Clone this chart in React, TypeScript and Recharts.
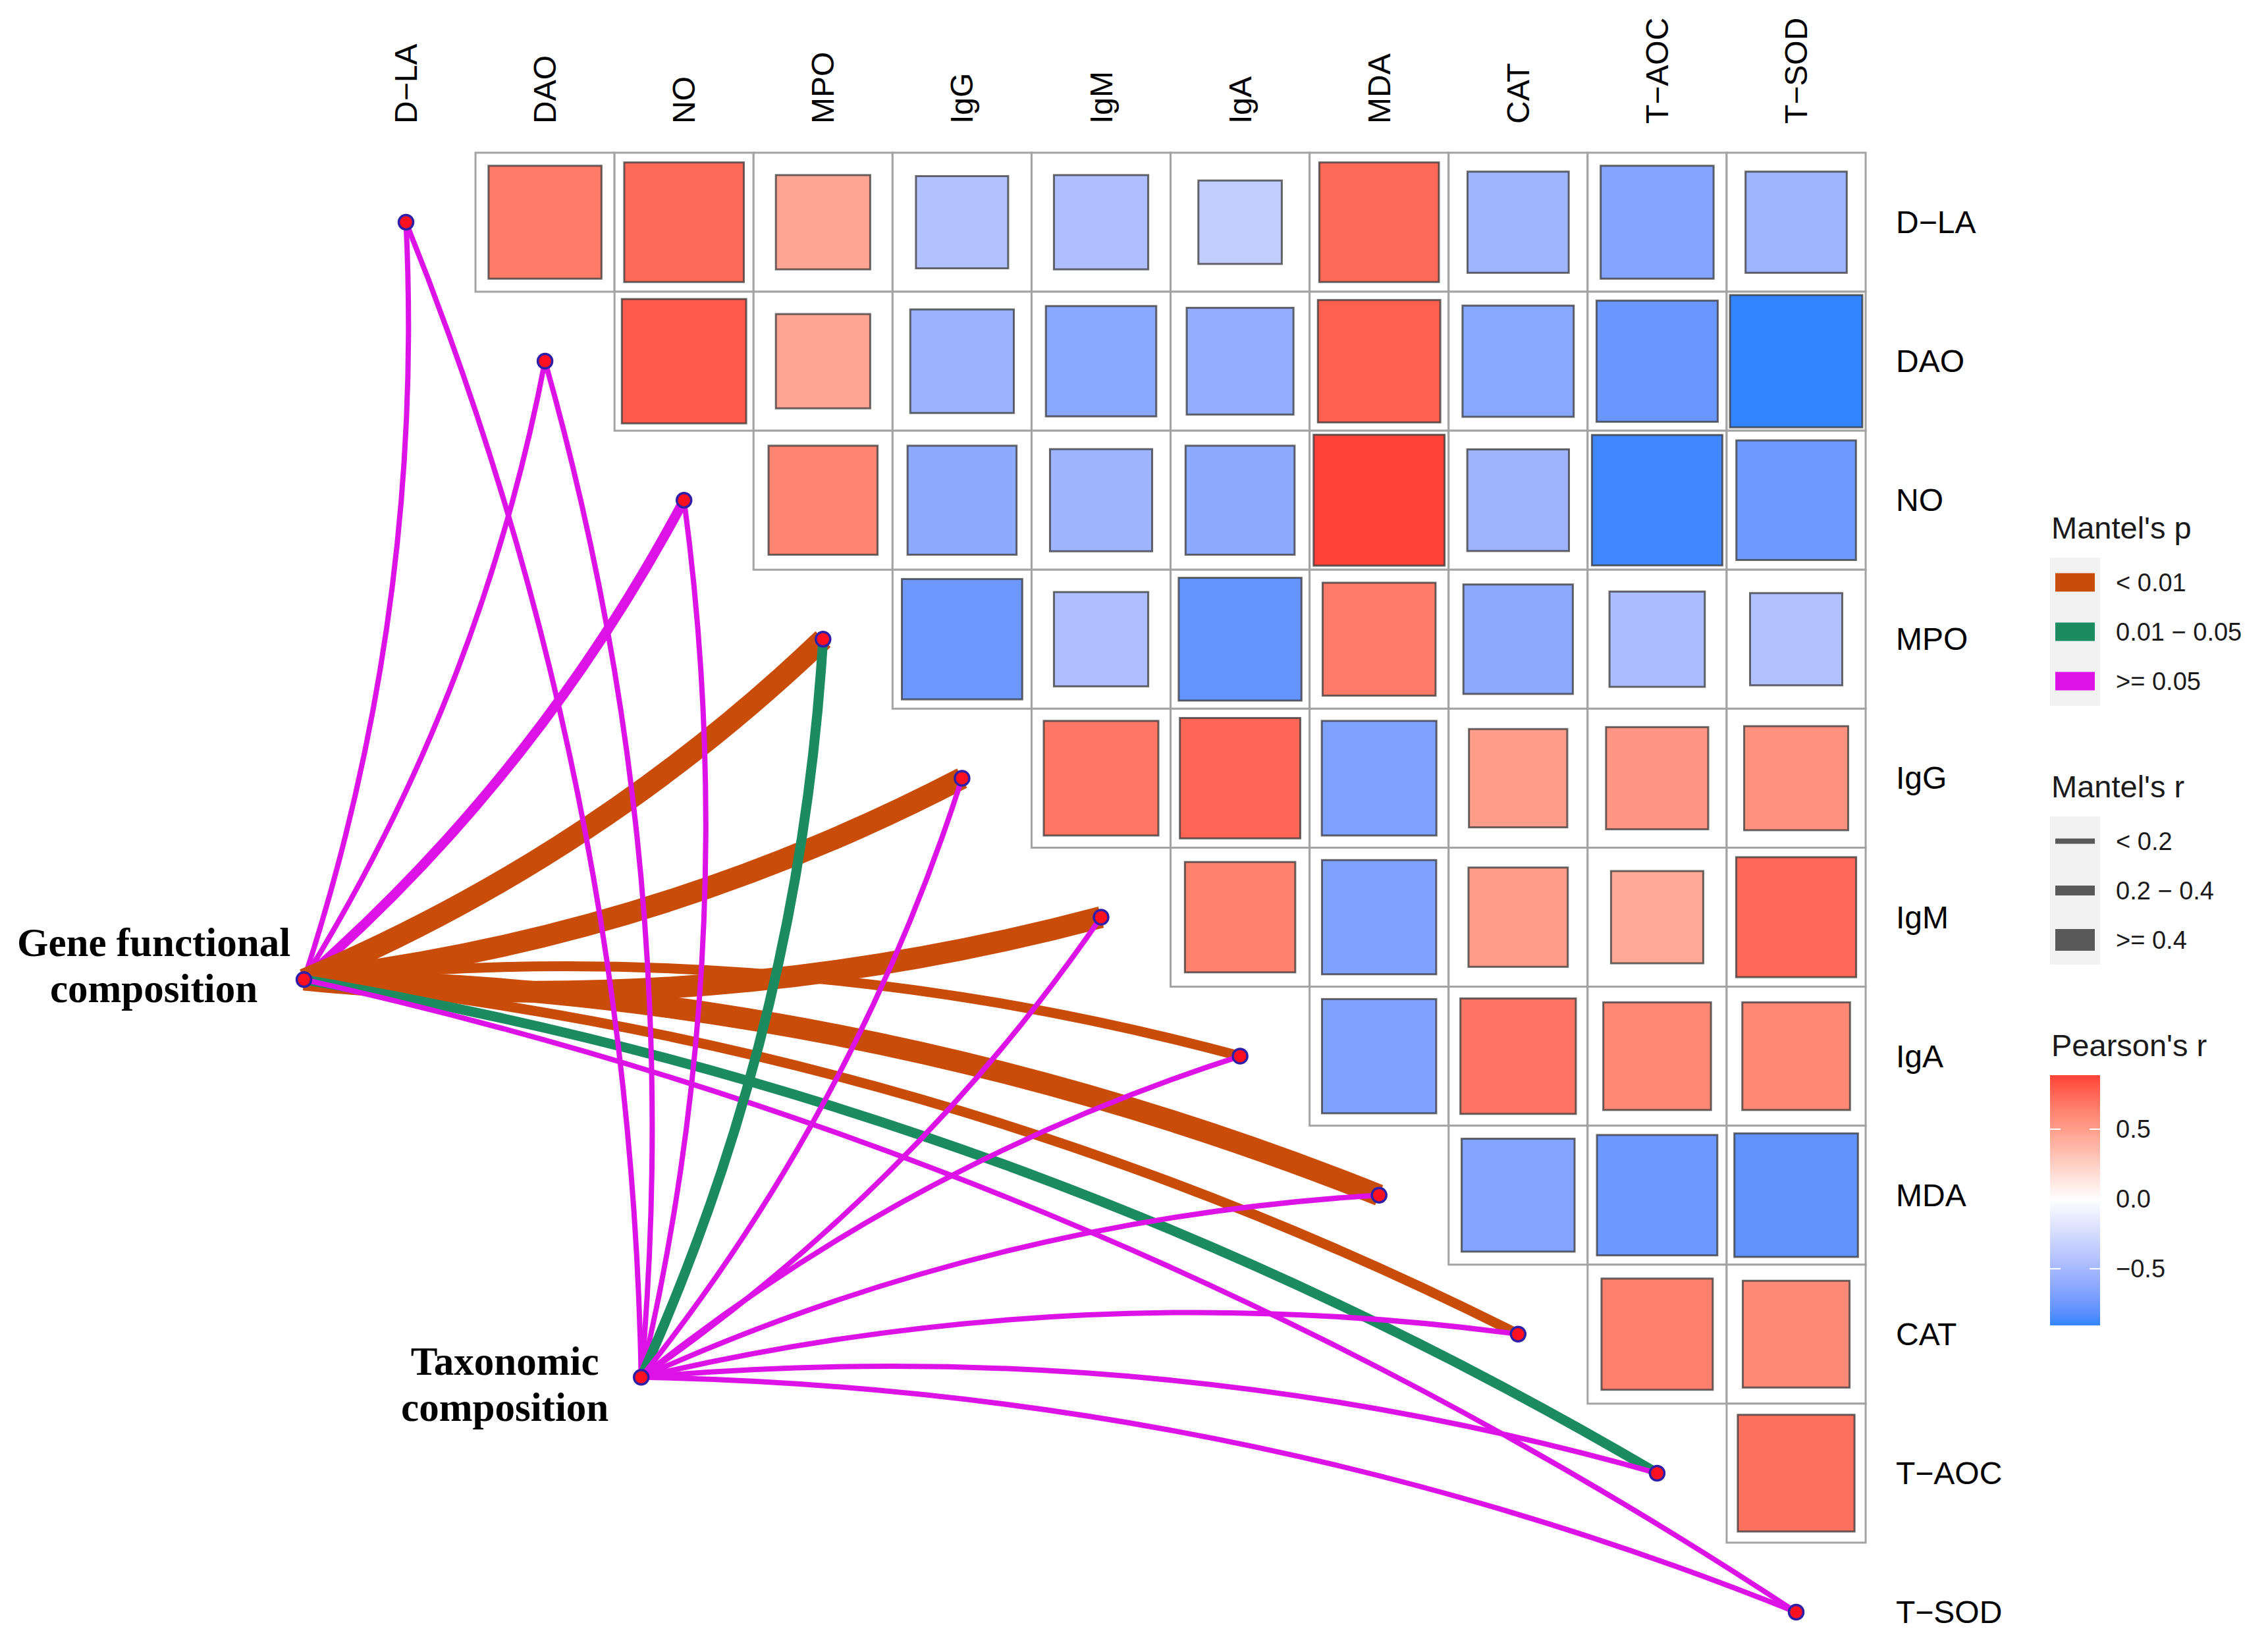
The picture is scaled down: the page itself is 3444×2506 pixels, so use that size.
import React from 'react';
import { ComposedChart, XAxis, YAxis, Scatter, Line, Customized } from 'recharts';

// ---------------- DATA ----------------
const envNames = ['D−LA', 'DAO', 'NO', 'MPO', 'IgG', 'IgM', 'IgA', 'MDA', 'CAT', 'T−AOC', 'T−SOD'];

// Pearson's r, upper triangle: row i holds columns i+1 .. 11
const rowDLA = [0.66, 0.74, 0.46, -0.44, -0.46, -0.36, 0.74, -0.53, -0.66, -0.53];
const rowDAO = [0.8, 0.46, -0.555, -0.63, -0.59, 0.775, -0.64, -0.76, -0.906];
const rowNO = [0.615, -0.615, -0.54, -0.615, 0.887, -0.535, -0.88, -0.74];
const rowMPO = [-0.75, -0.46, -0.78, 0.66, -0.62, -0.47, -0.44];
const rowIgG = [0.68, 0.75, -0.68, 0.5, 0.54, 0.56];
const rowIgM = [0.63, -0.675, 0.51, 0.44, 0.745];
const rowIgA = [-0.675, 0.69, 0.6, 0.6];
const rowMDA = [-0.66, -0.75, -0.79];
const rowCAT = [0.64, 0.59];
const rowTAOC = [0.705];
const pearsonRows = [rowDLA, rowDAO, rowNO, rowMPO, rowIgG, rowIgM, rowIgA, rowMDA, rowCAT, rowTAOC];

const specNames = ['Gene functional composition', 'Taxonomic composition'];
const specX = [0.266, 2.692];
const specY = [6.449, 9.31];

const pBreaks = ['< 0.01', '0.01 − 0.05', '>= 0.05'];
const rBreaks = ['< 0.2', '0.2 − 0.4', '>= 0.4'];

// category indices (into pBreaks / rBreaks) for each env, per spec
const genePd = [2, 2, 2, 0, 0, 0, 0, 0, 0, 1, 2];
const geneRd = [0, 0, 1, 2, 2, 2, 1, 2, 1, 1, 0];
const taxPd = [2, 2, 2, 1, 2, 2, 2, 2, 2, 2, 2];
const taxRd = [0, 0, 0, 1, 0, 0, 0, 0, 0, 0, 0];
const specPd = [genePd, taxPd];
const specRd = [geneRd, taxRd];

const colorTicks = [0.5, 0.0, -0.5];
const colorTickLabels = ['0.5', '0.0', '−0.5'];

// ---------------- STYLE / LAYOUT ----------------
const W = 3444;
const H = 2506;
const AX = 1; // tiny axis band so the axes render their ticks
const CELL = 211.1;
const X0 = 616.5;
const Y0 = 337.5;
const xDomain: [number, number] = [1 - X0 / CELL, 1 + (W - AX - X0) / CELL];
const yDomain: [number, number] = [1 - (Y0 - AX) / CELL, 1 + (H - Y0) / CELL];

const SANS = '"Liberation Sans", Arial, sans-serif';
const SERIF = '"Liberation Serif", "Times New Roman", serif';

const pColors = ['#C94C08', '#1D8B60', '#DC12E6'];
const rWidths = [8, 15, 33];
const CURV = 0.092;

const LOW = '#3385FF';
const MID = '#FFFFFF';
const HIGH = '#FF3A35';

const specLabelOffsets = [
  { dx: -228, dy: [-36, 34] },
  { dx: -207, dy: [-4, 66] },
];

// ---------------- COLOUR (Lab interpolation like ggplot) ----------------
const D65 = [0.95047, 1, 1.08883];
function hexToRgb(hex: string): number[] {
  const n = parseInt(hex.slice(1), 16);
  return [(n >> 16) & 255, (n >> 8) & 255, n & 255];
}
function toLin(c: number) {
  c /= 255;
  return c <= 0.04045 ? c / 12.92 : Math.pow((c + 0.055) / 1.055, 2.4);
}
function fromLin(c: number) {
  const v = c <= 0.0031308 ? 12.92 * c : 1.055 * Math.pow(Math.max(c, 0), 1 / 2.4) - 0.055;
  return Math.max(0, Math.min(255, Math.round(v * 255)));
}
function rgbToLab(rgb: number[]) {
  const [r, g, b] = rgb.map(toLin);
  const X = (0.4124 * r + 0.3576 * g + 0.1805 * b) / D65[0];
  const Y = (0.2126 * r + 0.7152 * g + 0.0722 * b) / D65[1];
  const Z = (0.0193 * r + 0.1192 * g + 0.9505 * b) / D65[2];
  const f = (t: number) => (t > 0.008856 ? Math.cbrt(t) : 7.787 * t + 16 / 116);
  const fx = f(X), fy = f(Y), fz = f(Z);
  return [116 * fy - 16, 500 * (fx - fy), 200 * (fy - fz)];
}
function labToCss(lab: number[]) {
  const [L, a, b] = lab;
  const fy = (L + 16) / 116;
  const fx = fy + a / 500;
  const fz = fy - b / 200;
  const inv = (t: number) => (t * t * t > 0.008856 ? t * t * t : (t - 16 / 116) / 7.787);
  const X = inv(fx) * D65[0], Y = inv(fy) * D65[1], Z = inv(fz) * D65[2];
  const r = 3.2406 * X - 1.5372 * Y - 0.4986 * Z;
  const g = -0.9689 * X + 1.8758 * Y + 0.0415 * Z;
  const bb = 0.0557 * X - 0.204 * Y + 1.057 * Z;
  return `rgb(${fromLin(r)},${fromLin(g)},${fromLin(bb)})`;
}
const labLow = rgbToLab(hexToRgb(LOW));
const labMid = rgbToLab(hexToRgb(MID));
const labHigh = rgbToLab(hexToRgb(HIGH));

const allR = pearsonRows.flat();
const rMin = Math.min(...allR);
const rMax = Math.max(...allR);
const extent = Math.max(Math.abs(rMin), Math.abs(rMax));

function fillFor(r: number) {
  const t = Math.max(-1, Math.min(1, r / extent));
  const from = labMid;
  const to = t >= 0 ? labHigh : labLow;
  const f = Math.abs(t);
  return labToCss([0, 1, 2].map((k) => from[k] + (to[k] - from[k]) * f));
}

// ---------------- derived series ----------------
const cellData = pearsonRows.flatMap((row, i) =>
  row.map((r, k) => ({ x: i + 2 + k, y: i + 1, r }))
);
const envNodeData = envNames.map((name, i) => ({ x: i + 1, y: i + 1, name }));
const specNodeData = specNames.map((name, s) => ({ x: specX[s], y: specY[s], name, s }));

const links = specNames.flatMap((_, s) =>
  envNames.map((_e, j) => ({
    key: `l-${s}-${j}`,
    pd: specPd[s][j],
    rd: specRd[s][j],
    sign: j < envNames.length / 2 ? 1 : -1,
    data: [
      { x: specX[s], y: specY[s] },
      { x: j + 1, y: j + 1 },
    ],
  }))
);

function makeCurve(sign: number, k: number) {
  return (context: any) => {
    let pts: number[][] = [];
    return {
      areaStart() {},
      areaEnd() {},
      lineStart() {
        pts = [];
      },
      point(x: number, y: number) {
        pts.push([x, y]);
      },
      lineEnd() {
        if (pts.length < 2) return;
        const [x0, y0] = pts[0];
        const [x1, y1] = pts[pts.length - 1];
        const dx = x1 - x0;
        const dy = y1 - y0;
        const cx = (x0 + x1) / 2 + sign * k * -dy;
        const cy = (y0 + y1) / 2 + sign * k * dx;
        context.moveTo(x0, y0);
        context.quadraticCurveTo(cx, cy, x1, y1);
      },
    };
  };
}

// ---------------- shapes ----------------
const CellShape = (props: any) => {
  const { cx, cy, payload } = props;
  const half = CELL / 2;
  const side = Math.sqrt(Math.abs(payload.r)) * CELL;
  return (
    <g>
      <rect x={cx - half} y={cy - half} width={CELL} height={CELL} fill="#FFFFFF" stroke="#A3A3A3" strokeWidth={3} />
      <rect
        x={cx - side / 2}
        y={cy - side / 2}
        width={side}
        height={side}
        fill={fillFor(payload.r)}
        stroke="#383838"
        strokeOpacity={0.75}
        strokeWidth={3}
      />
    </g>
  );
};

const NodeShape = (props: any) => {
  const { cx, cy } = props;
  return <circle cx={cx} cy={cy} r={11} fill="#FF1020" stroke="#2E1FA8" strokeWidth={3.5} />;
};

const SpecNodeShape = (props: any) => {
  const { cx, cy, payload } = props;
  const name: string = payload.name;
  const cut = name.lastIndexOf(' ');
  const lines = [name.slice(0, cut), name.slice(cut + 1)];
  const off = specLabelOffsets[payload.s];
  return (
    <g>
      {lines.map((ln, i) => (
        <text
          key={i}
          x={cx + off.dx}
          y={cy + off.dy[i]}
          textAnchor="middle"
          fontFamily={SERIF}
          fontWeight="bold"
          fontSize={61}
          fill="#000"
        >
          {ln}
        </text>
      ))}
      <circle cx={cx} cy={cy} r={11} fill="#FF1020" stroke="#2E1FA8" strokeWidth={3.5} />
    </g>
  );
};

const TopTick = (props: any) => {
  const { x, payload } = props;
  return (
    <text
      transform={`translate(${x},188) rotate(-90)`}
      textAnchor="start"
      dominantBaseline="central"
      fontFamily={SANS}
      fontSize={48}
      fill="#000"
    >
      {envNames[payload.value - 1]}
    </text>
  );
};

const RightTick = (props: any) => {
  const { y, payload } = props;
  return (
    <text x={2879} y={y} textAnchor="start" dominantBaseline="central" fontFamily={SANS} fontSize={48} fill="#000">
      {envNames[payload.value - 1]}
    </text>
  );
};

// ---------------- legend ----------------
const LX = 3113;
const LTX = 3115;
const LLX = 3213;
const KEY = 75;

const LegendBlock = () => {
  const barTop = 1633;
  const barBot = 2013;
  const barX = LX;
  const barW = 76;
  const yOf = (r: number) => barTop + ((rMax - r) / (rMax - rMin)) * (barBot - barTop);
  const nStops = 24;
  const stops = Array.from({ length: nStops + 1 }, (_, i) => {
    const r = rMax - ((rMax - rMin) * i) / nStops;
    return { off: i / nStops, color: fillFor(r) };
  });
  const titleProps = { fontFamily: SANS, fontSize: 47, fill: '#1A1A1A' };
  const labProps = { fontFamily: SANS, fontSize: 38, fill: '#1A1A1A', dominantBaseline: 'central' as const };
  return (
    <g>
      <defs>
        <linearGradient id="pearsonGrad" x1="0" y1="0" x2="0" y2="1">
          {stops.map((s, i) => (
            <stop key={i} offset={s.off} stopColor={s.color} />
          ))}
        </linearGradient>
      </defs>
      <text x={LTX} y={818} {...titleProps}>Mantel's p</text>
      <rect x={LX} y={847} width={76} height={KEY * 3} fill="#F2F2F2" />
      {pBreaks.map((b, i) => {
        const cy = 847 + KEY * (i + 0.5);
        return (
          <g key={b}>
            <rect x={LX + 8} y={cy - 14} width={60} height={28} fill={pColors[i]} />
            <text x={LLX} y={cy} {...labProps}>{b}</text>
          </g>
        );
      })}
      <text x={LTX} y={1211} {...titleProps}>Mantel's r</text>
      <rect x={LX} y={1240} width={76} height={KEY * 3} fill="#F2F2F2" />
      {rBreaks.map((b, i) => {
        const cy = 1240 + KEY * (i + 0.5);
        return (
          <g key={b}>
            <rect x={LX + 8} y={cy - rWidths[i] / 2} width={60} height={rWidths[i]} fill="#595959" />
            <text x={LLX} y={cy} {...labProps}>{b}</text>
          </g>
        );
      })}
      <text x={LTX} y={1604} {...titleProps}>Pearson's r</text>
      <rect x={barX} y={barTop} width={barW} height={barBot - barTop} fill="url(#pearsonGrad)" />
      {colorTicks.map((t, i) => {
        const y = yOf(t);
        return (
          <g key={i}>
            <line x1={barX} x2={barX + 16} y1={y} y2={y} stroke="#FFFFFF" strokeWidth={2} />
            <line x1={barX + barW - 16} x2={barX + barW} y1={y} y2={y} stroke="#FFFFFF" strokeWidth={2} />
            <text x={LLX} y={y} {...labProps}>{colorTickLabels[i]}</text>
          </g>
        );
      })}
    </g>
  );
};

const ticks = envNames.map((_, i) => i + 1);

export default function App() {
  return (
    <div style={{ position: 'absolute', left: 0, top: 0, width: W, height: H, background: '#FFFFFF' }}>
      <ComposedChart width={W} height={H} margin={{ top: 0, right: 0, bottom: 0, left: 0 }}>
        <XAxis
          xAxisId={0}
          type="number"
          dataKey="x"
          orientation="top"
          height={AX}
          domain={xDomain}
          allowDataOverflow
          ticks={ticks}
          interval={0}
          axisLine={false}
          tickLine={false}
          tick={(p: any) => <TopTick {...p} />}
        />
        <YAxis
          yAxisId={0}
          type="number"
          dataKey="y"
          orientation="right"
          width={AX}
          reversed
          domain={yDomain}
          allowDataOverflow
          ticks={ticks}
          interval={0}
          axisLine={false}
          tickLine={false}
          tick={(p: any) => <RightTick {...p} />}
        />
        <Scatter data={cellData} dataKey="y" shape={CellShape} isAnimationActive={false} legendType="none" />
        {links.map((l) => (
          <Line
            key={l.key}
            data={l.data}
            dataKey="y"
            type={makeCurve(l.sign, CURV) as any}
            stroke={pColors[l.pd]}
            strokeWidth={rWidths[l.rd]}
            strokeLinecap="butt"
            dot={false}
            activeDot={false}
            isAnimationActive={false}
            legendType="none"
          />
        ))}
        <Scatter data={envNodeData} dataKey="y" shape={NodeShape} isAnimationActive={false} legendType="none" />
        <Scatter data={specNodeData} dataKey="y" shape={SpecNodeShape} isAnimationActive={false} legendType="none" />
        <Customized component={<LegendBlock />} />
      </ComposedChart>
    </div>
  );
}
